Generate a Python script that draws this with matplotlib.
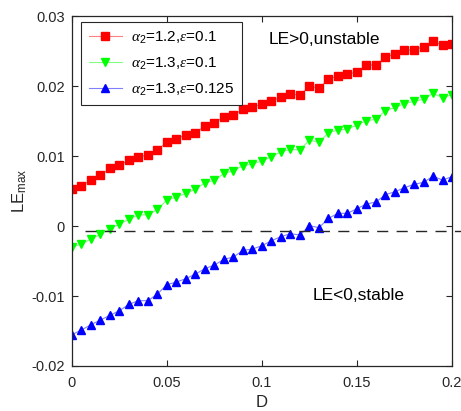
import numpy as np
import matplotlib.pyplot as plt

plt.rcParams['font.family'] = ['Liberation Sans', 'DejaVu Sans']
plt.rcParams['mathtext.fontset'] = 'custom'
plt.rcParams['mathtext.rm'] = 'Liberation Sans'
plt.rcParams['mathtext.it'] = 'Liberation Serif:italic'

# noise intensity D
D = np.linspace(0, 0.2, 41)

le_a12_e01 = [0.00529, 0.00576, 0.00657, 0.00724, 0.00824, 0.00871, 0.00938, 0.00986,
              0.01014, 0.01086, 0.0120, 0.01248, 0.0130, 0.01329, 0.01433, 0.01476,
              0.01562, 0.0159, 0.01667, 0.01705, 0.01738, 0.0179, 0.01838, 0.01886,
              0.01871, 0.0200, 0.01967, 0.0210, 0.02143, 0.02167, 0.0220, 0.0230,
              0.0230, 0.0241, 0.0246, 0.0251, 0.0252, 0.0256, 0.0264, 0.0258, 0.0260]

le_a13_e01 = [-0.0030, -0.00257, -0.00186, -0.00119, -0.00043, 0.00029, 0.00095, 0.00162,
              0.00157, 0.00238, 0.00371, 0.00414, 0.00467, 0.00524, 0.00619, 0.00652,
              0.00752, 0.0079, 0.00862, 0.00886, 0.00929, 0.0099, 0.01061, 0.01095,
              0.01086, 0.01229, 0.01195, 0.01333, 0.01371, 0.01386, 0.01443, 0.01505,
              0.01524, 0.01648, 0.01695, 0.01748, 0.01781, 0.0181, 0.01895, 0.01833, 0.01876]

le_a13_e0125 = [-0.01552, -0.01486, -0.0141, -0.01343, -0.01276, -0.0121, -0.01119, -0.01067,
                -0.01067, -0.00971, -0.00838, -0.0080, -0.00752, -0.00686, -0.0061, -0.00557,
                -0.00476, -0.00443, -0.00348, -0.00329, -0.00281, -0.0021, -0.00152, -0.0011,
                -0.00129, 0.00005, -0.00024, 0.0011, 0.00181, 0.00181, 0.00248, 0.00314,
                0.00343, 0.00448, 0.0049, 0.00548, 0.00595, 0.00624, 0.0071, 0.00657, 0.00705]

labels = [r'$\alpha_2$=1.2,$\epsilon$=0.1',
          r'$\alpha_2$=1.3,$\epsilon$=0.1',
          r'$\alpha_2$=1.3,$\epsilon$=0.125']

threshold = -0.0007

fig = plt.figure(figsize=(4.61, 4.11), dpi=100)
ax = fig.add_axes([0.156, 0.1095, 0.8245, 0.8515])

ax.plot(D, le_a12_e01, '-s', color='#ff8080', lw=0.8, ms=5.2,
        mfc='#ff0000', mec='#ff0000', label=labels[0])
ax.plot(D, le_a13_e01, '-v', color='#80ff80', lw=0.8, ms=6.2,
        mfc='#00ff00', mec='#00ff00', label=labels[1])
ax.plot(D, le_a13_e0125, '-^', color='#8080ff', lw=0.8, ms=6.2,
        mfc='#0000ff', mec='#0000ff', label=labels[2])

ax.plot([0.007, 0.21], [threshold, threshold], color='#262626', lw=1,
        linestyle=(0, (8, 6)), clip_on=False)

ax.text(0.1037, 0.0266, 'LE>0,unstable', fontsize=12.5, va='center', ha='left')
ax.text(0.1267, -0.0099, 'LE<0,stable', fontsize=12.5, va='center', ha='left')

ax.set_xlim(0, 0.2)
ax.set_ylim(-0.02, 0.03)
ax.set_xticks([0, 0.05, 0.1, 0.15, 0.2])
ax.set_xticklabels(['0', '0.05', '0.1', '0.15', '0.2'])
ax.set_yticks([-0.02, -0.01, 0, 0.01, 0.02, 0.03])
ax.set_yticklabels(['-0.02', '-0.01', '0', '0.01', '0.02', '0.03'])
ax.tick_params(direction='in', top=True, right=True, labelsize=10.5, length=4,
               colors='#262626', labelcolor='#262626')
ax.tick_params(axis='x', pad=7)
ax.tick_params(axis='y', pad=5)
for s in ax.spines.values():
    s.set_color('#262626')
    s.set_linewidth(0.9)

ax.set_xlabel('D', fontsize=12, color='#262626', labelpad=4)
ax.set_ylabel(r'LE$_{\rm max}$', fontsize=12, color='#262626', labelpad=2)

leg = ax.legend(loc='upper left', bbox_to_anchor=(0.024, 0.983), borderaxespad=0,
                fontsize=11, fancybox=False, edgecolor='#262626', framealpha=1,
                handlelength=2.2, borderpad=0.5, labelspacing=0.65, handletextpad=0.6)
leg.get_frame().set_linewidth(0.8)

fig.savefig('out.png', dpi=100)
